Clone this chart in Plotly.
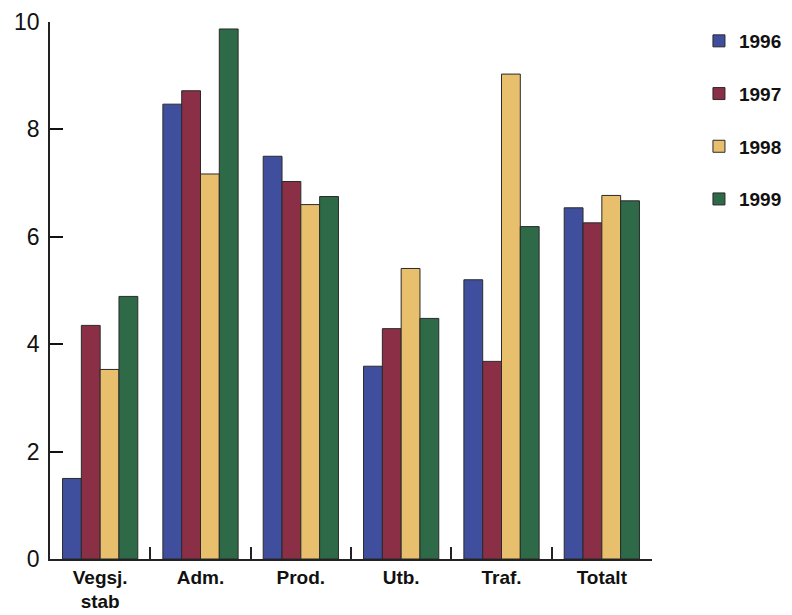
import plotly.graph_objects as go

categories = ["Vegsj.<br>stab", "Adm.", "Prod.", "Utb.", "Traf.", "Totalt"]
years = ["1996", "1997", "1998", "1999"]
v1996 = [1.5, 8.47, 7.5, 3.59, 5.2, 6.54]
v1997 = [4.35, 8.72, 7.03, 4.29, 3.68, 6.26]
v1998 = [3.53, 7.17, 6.6, 5.41, 9.03, 6.77]
v1999 = [4.89, 9.87, 6.75, 4.48, 6.19, 6.67]
series = [v1996, v1997, v1998, v1999]
colors = ["#3f4f9e", "#8a2f45", "#e8bf6c", "#2e6a47"]

fig = go.Figure()
for name, vals, col in zip(years, series, colors):
    fig.add_trace(go.Bar(
        x=categories, y=vals, name=name, legendgroup=name,
        marker=dict(color=col, line=dict(color="#2a2a2a", width=1)),
    ))

# page body has an 8px default margin, so the figure is sized 8px smaller
fig.update_layout(
    width=784, height=607,
    margin=dict(l=42, r=140, t=14, b=56, autoexpand=False),
    paper_bgcolor="white", plot_bgcolor="white",
    barmode="group", bargap=0.25, bargroupgap=0,
    font=dict(family="Liberation Sans, Arial, sans-serif", color="#111"),
    showlegend=True,
    legend=dict(
        x=1.078, y=1.0, xanchor="left", yanchor="top",
        font=dict(size=19, family="Liberation Sans, Arial, sans-serif", weight="bold"),
        tracegroupgap=25, itemclick=False,
    ),
    xaxis=dict(
        range=[-0.5, 5.5], showline=True, linecolor="#222", linewidth=1.5,
        ticks="inside", tickson="boundaries", ticklen=12, tickcolor="#222", tickwidth=2,
        tickfont=dict(size=19, weight="bold"), showgrid=False, fixedrange=True,
        automargin=False,
    ),
    yaxis=dict(
        range=[0, 10], tickmode="linear", tick0=0, dtick=2,
        showline=True, linecolor="#222", linewidth=1.5, mirror=False,
        ticks="inside", ticklen=13, tickcolor="#111111", tickwidth=2,
        ticklabelposition="outside", tickfont=dict(size=23),
        showgrid=False, zeroline=False,
        ticklabelstandoff=4, fixedrange=True, automargin=False,
    ),
)

fig.write_html("out.html")
